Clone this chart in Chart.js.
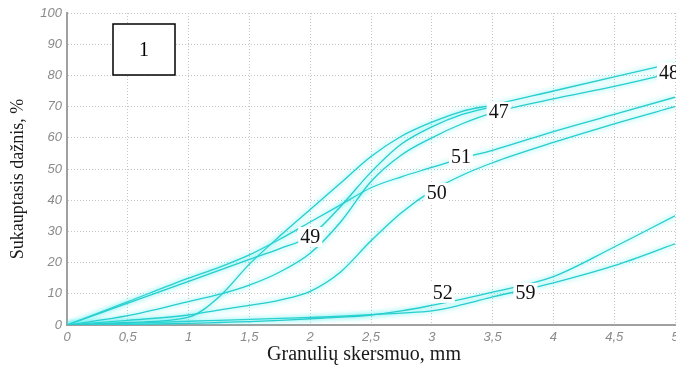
<!DOCTYPE html>
<html>
<head>
<meta charset="utf-8">
<script src="https://cdn.jsdelivr.net/npm/chart.js@4/dist/chart.umd.min.js"></script>
<style>
  html, body { margin: 0; padding: 0; background: #fff; }
  #wrap { width: 676px; height: 370px; position: relative; }
</style>
</head>
<body>
<div id="wrap"><canvas id="c" width="676" height="370"></canvas></div>
<script>
// Particle diameter (mm) sampled for every grading curve
const diameters = [0, 0.5, 1, 1.25, 1.5, 1.75, 2, 2.25, 2.5, 2.75, 3, 3.25, 3.5, 4, 4.5, 5];

// Cumulative passing (%) for each sample
const curve47 = [0, 0.8, 2.5, 9, 19.5, 28.5, 37, 45.5, 54, 60.5, 65, 68.5, 70.5, 75, 79.5, 84];
const curve48 = [0, 3, 7.5, 9.8, 12.8, 17, 23, 33, 46, 54.5, 60, 64.5, 68, 72.5, 76.5, 81];
const curve49 = [0, 7, 14, 17.5, 21, 24.5, 28.5, 38, 49, 58, 63.5, 67.5, 70, null, null, null];
const curve50 = [0, 1.5, 3.2, 4.8, 6.3, 8, 10.8, 17, 27, 36, 43, 48, 52, 58.5, 64.5, 70];
const curve51 = [0, 7.5, 15, 18.5, 22.5, 27.5, 33, 38.5, 44, 47.5, 50.5, 53.5, 56, 62, 67.5, 73];
const curve52 = [0, 0.2, 0.5, 0.8, 1.1, 1.5, 2, 2.5, 3.2, 4.5, 6.3, 8.3, 10.5, 15.5, 25, 35];
const curve59 = [0, 0.5, 1.2, 1.5, 1.8, 2.1, 2.4, 2.8, 3.3, 3.8, 4.5, 6.5, 9, 13.5, 19, 26];

// Axis ticks
const xTicks = [0, 0.5, 1, 1.5, 2, 2.5, 3, 3.5, 4, 4.5, 5];
const yTicks = [0, 10, 20, 30, 40, 50, 60, 70, 80, 90, 100];

// Sample tags written onto the curves (data coordinates)
const tagNames = ['47', '48', '49', '50', '51', '52', '59'];
const tagX = [3.55, 4.95, 2.0, 3.04, 3.24, 3.09, 3.77];
const tagY = [68.3, 81, 28.2, 42.3, 53.8, 10.3, 10.3];

const allCurves = [curve47, curve48, curve49, curve50, curve51, curve52, curve59];

const datasets = allCurves.map((vals, i) => ({
  label: tagNames[i],
  data: diameters.map((d, k) => ({ x: d, y: vals[k] })),
  borderColor: 'rgb(40, 205, 205)',
  borderWidth: 1.3,
  pointRadius: 0,
  tension: 0.35,
  cubicInterpolationMode: 'monotone',
  spanGaps: false,
  fill: false
}));

const tickFont = { family: '"Liberation Sans", Arial, sans-serif', size: 13, style: 'italic' };
const serif = '"Liberation Serif", "Times New Roman", serif';

// soft cyan halo around each curve
const glow = {
  id: 'glow',
  beforeDatasetDraw(chart) {
    const ctx = chart.ctx;
    ctx.save();
    ctx.shadowColor = 'rgba(60, 235, 235, 0.95)';
    ctx.shadowBlur = 5;
  },
  afterDatasetDraw(chart) {
    chart.ctx.restore();
  }
};

// sample numbers, panel number box and axis titles
const tags = {
  id: 'tags',
  afterDatasetsDraw(chart) {
    const ctx = chart.ctx;
    const xs = chart.scales.x, ys = chart.scales.y;
    ctx.save();
    ctx.font = '20px ' + serif;
    ctx.textAlign = 'center';
    ctx.textBaseline = 'middle';
    tagNames.forEach((t, i) => {
      const px = xs.getPixelForValue(tagX[i]);
      const py = ys.getPixelForValue(tagY[i]);
      const w = ctx.measureText(t).width + 4;
      ctx.fillStyle = '#fff';
      ctx.fillRect(px - w / 2, py - 10, w, 20);
      ctx.fillStyle = '#111';
      ctx.fillText(t, px, py + 1);
    });

    // panel number
    const a = chart.chartArea;
    const bx = a.left + 46, by = a.top + 11, bw = 62, bh = 51;
    ctx.fillStyle = '#fff';
    ctx.fillRect(bx, by, bw, bh);
    ctx.strokeStyle = '#000';
    ctx.lineWidth = 1.5;
    ctx.strokeRect(bx, by, bw, bh);
    ctx.fillStyle = '#000';
    ctx.font = '20px ' + serif;
    ctx.fillText('1', bx + bw / 2, by + bh / 2 + 1);

    // axis titles
    ctx.fillStyle = '#1a1a1a';
    ctx.font = '20px ' + serif;
    ctx.fillText('Granulių skersmuo, mm', 364, 355);
    ctx.translate(18, 179);
    ctx.rotate(-Math.PI / 2);
    ctx.font = '18px ' + serif;
    ctx.fillText('Sukauptasis dažnis, %', 0, 0);
    ctx.restore();
  }
};

new Chart(document.getElementById('c'), {
  type: 'line',
  data: { datasets },
  options: {
    responsive: false,
    animation: false,
    devicePixelRatio: 1,
    layout: { padding: { top: 13, right: 1, left: 0, bottom: 0 } },
    plugins: { legend: { display: false }, tooltip: { enabled: false } },
    scales: {
      x: {
        type: 'linear',
        min: 0, max: 5,
        afterBuildTicks: s => { s.ticks = xTicks.map(v => ({ value: v })); },
        afterFit: s => { s.height = 45; s.paddingLeft = 0; s.paddingRight = 0; },
        ticks: {
          autoSkip: false, maxRotation: 0, padding: 5,
          color: '#8a8a8a', font: tickFont,
          callback: v => String(v).replace('.', ',')
        },
        grid: { color: '#c4c4c4', lineWidth: 1, drawTicks: false },
        border: { display: true, color: '#a0a0a0', width: 2, dash: [1, 2] }
      },
      y: {
        min: 0, max: 100,
        afterBuildTicks: s => { s.ticks = yTicks.map(v => ({ value: v })); },
        afterFit: s => { s.width = 67; },
        ticks: { padding: 5, color: '#8a8a8a', font: tickFont },
        grid: { color: '#c4c4c4', lineWidth: 1, drawTicks: false },
        border: { display: true, color: '#a0a0a0', width: 2, dash: [1, 2] }
      }
    }
  },
  plugins: [glow, tags]
});
</script>
</body>
</html>
